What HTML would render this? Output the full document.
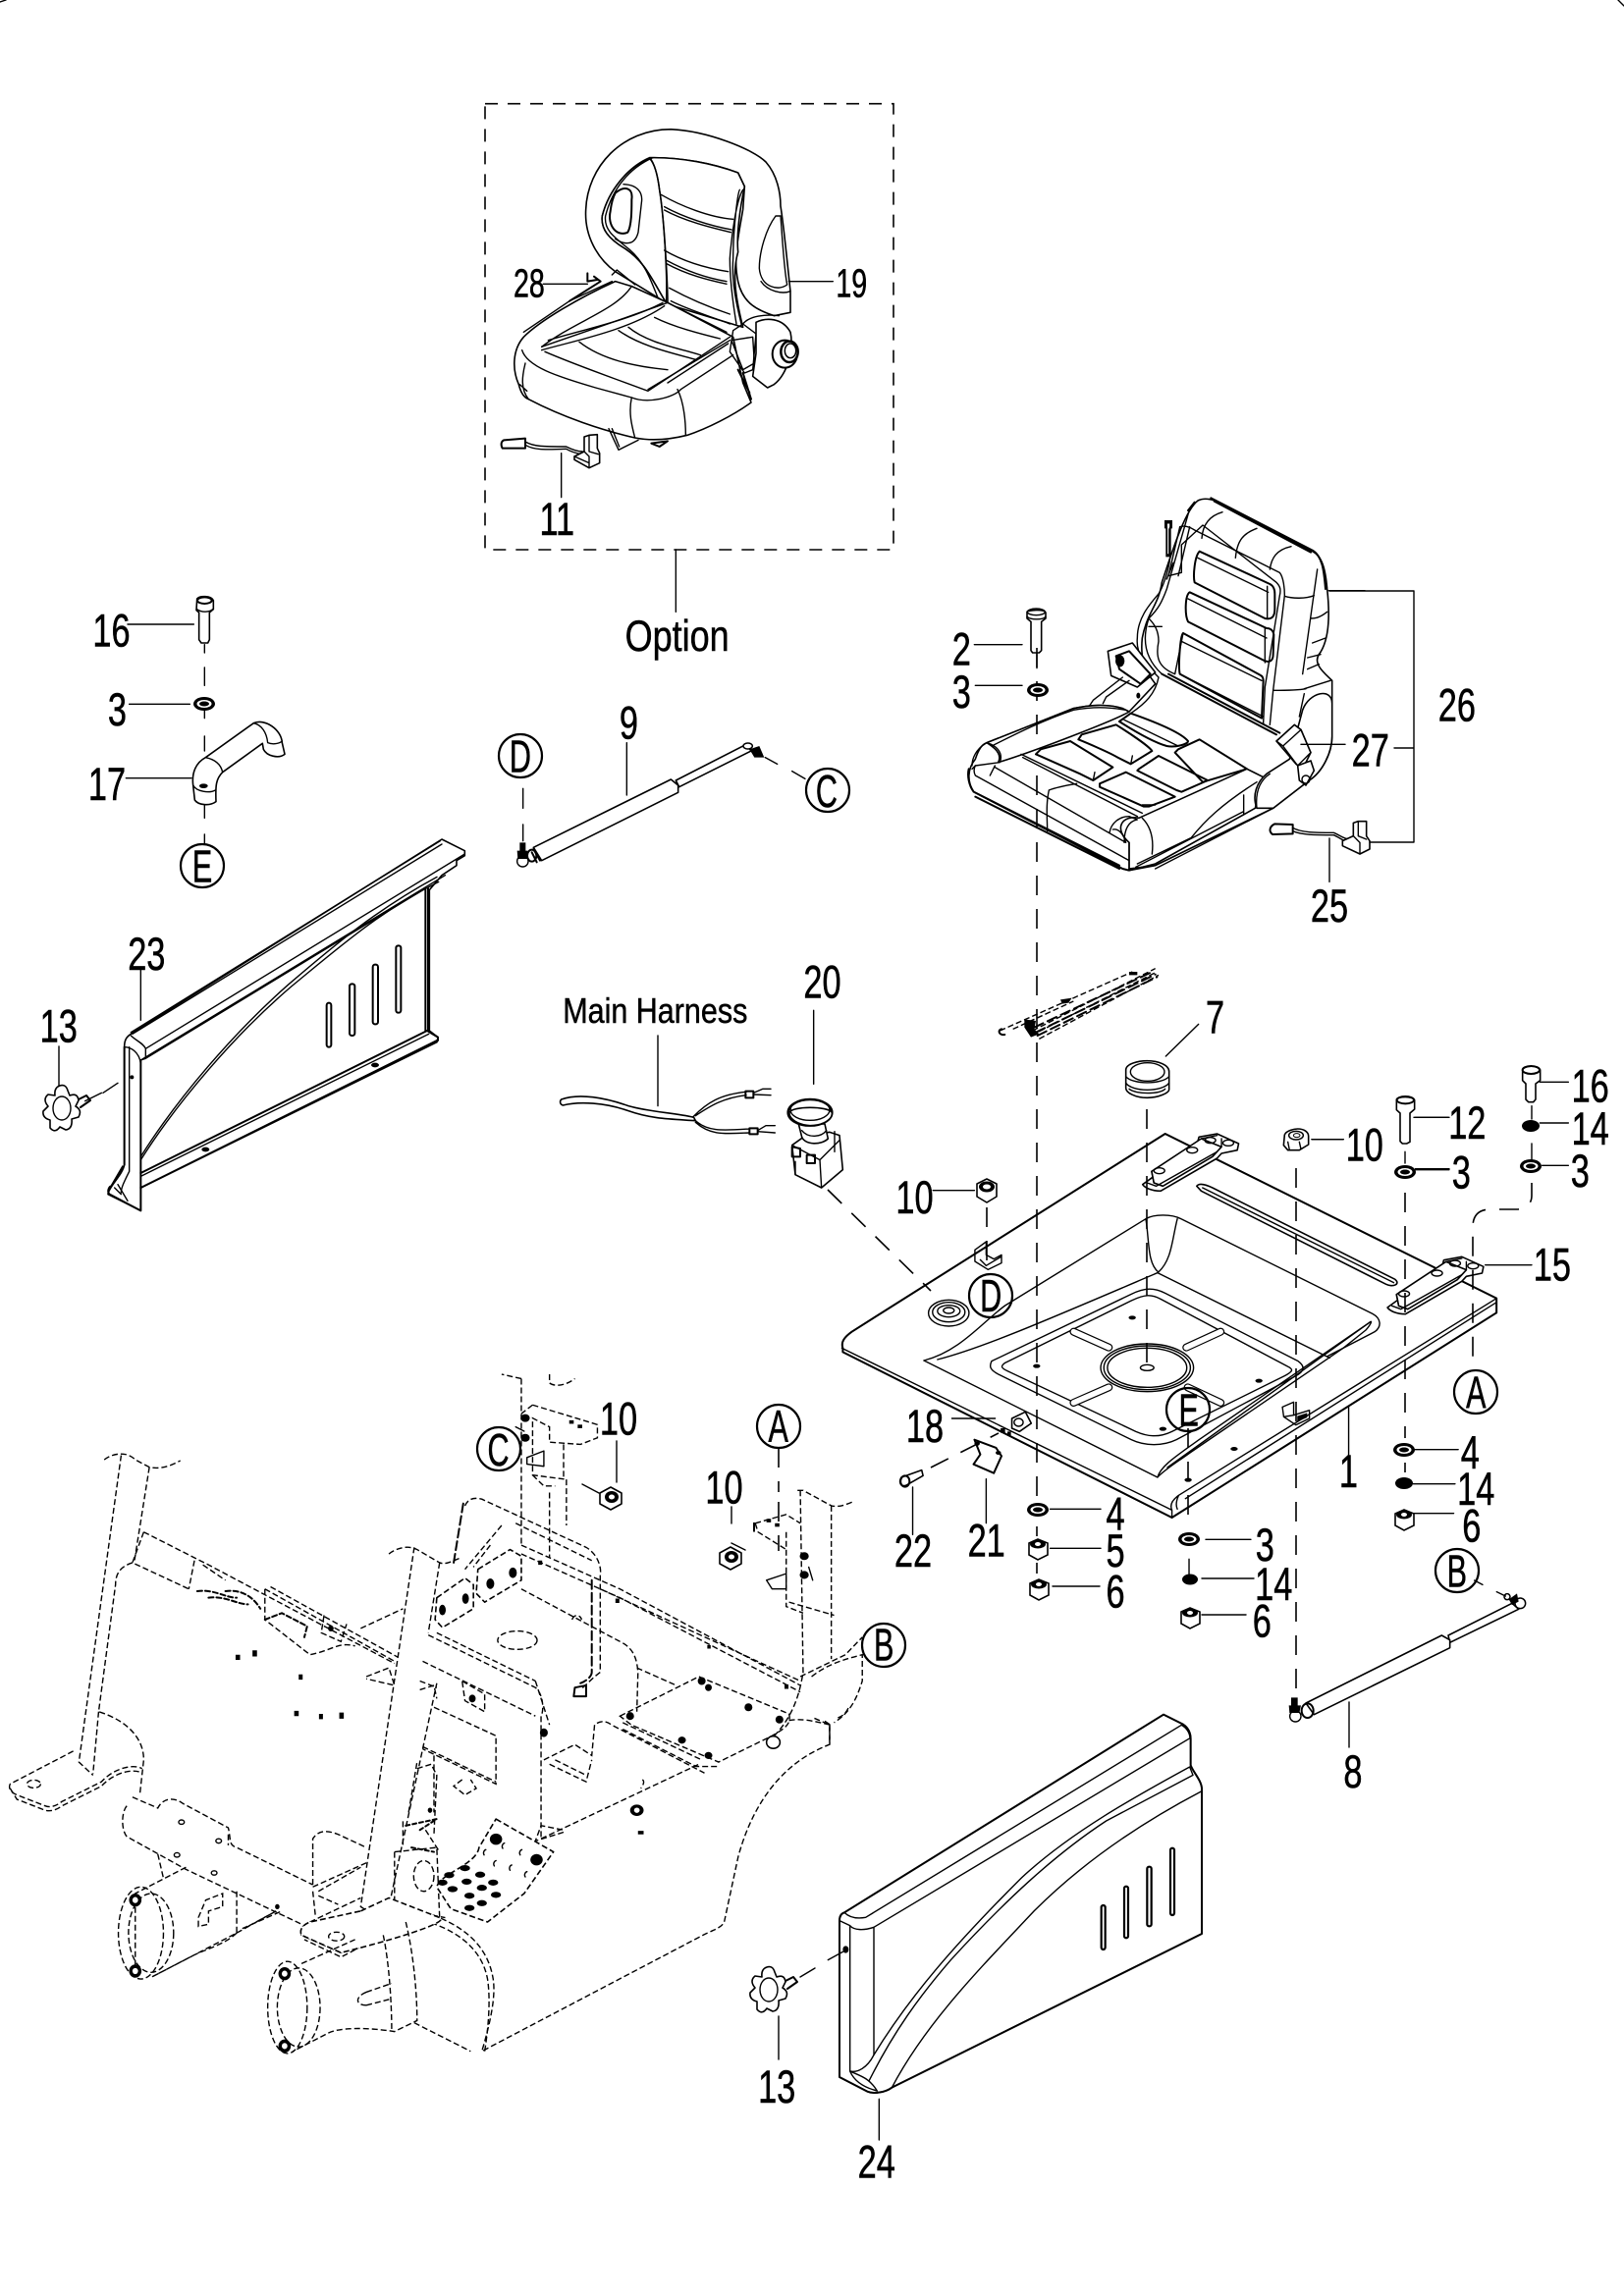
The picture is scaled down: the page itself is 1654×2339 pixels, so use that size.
<!DOCTYPE html>
<html><head><meta charset="utf-8"><style>
html,body{margin:0;padding:0;background:#fff}
svg{display:block}
svg *{vector-effect:non-scaling-stroke}
.l{fill:none;stroke:#000;stroke-width:1.4;stroke-linejoin:round;stroke-linecap:round}
.h{fill:none;stroke:#000;stroke-width:2;stroke-linejoin:round;stroke-linecap:round}
.f{fill:#fff;stroke:#000;stroke-width:1.6;stroke-linejoin:round}
.d{fill:none;stroke:#000;stroke-width:1.4;stroke-dasharray:6 3}
.dd{fill:none;stroke:#000;stroke-width:1.6;stroke-dasharray:20 14}
.b{fill:#000;stroke:none}
text{font-family:"Liberation Sans",sans-serif;fill:#000;text-anchor:middle;stroke:#000;stroke-width:.5}
</style></head><body>
<svg xmlns="http://www.w3.org/2000/svg" width="1654" height="2339" viewBox="0 0 1654 2339">
<rect width="1654" height="2339" fill="#fff"/>
<path class="l" d="M0 2 L6 0 M1648 0 L1654 6"/>

<!-- frame (dashed) -->
<g transform="translate(0,1400) scale(.574,.4464)">
<path class="d" d="M185 195C200 180 225 175 240 195L265 212C285 218 305 208 320 197"/>
<path class="d" d="M215 185L140 885L165 915M265 212L238 430M175 770L165 912"/>
<path class="d" d="M130 860L18 935C14 945 20 955 30 960L80 985C90 990 100 985 110 975L180 930C205 895 240 890 252 900"/>
<path class="d" d="M18 945L30 970L80 995C90 998 100 995 110 985L180 940C205 905 240 900 252 910"/>
<ellipse class="d" cx="60" cy="935" rx="12" ry="9"/>
<path class="d" d="M235 430C210 440 205 460 205 480L175 770C225 790 255 830 255 880L248 960"/>
<path class="d" d="M255 360L235 430L335 490M255 360L370 435L700 660M345 425L335 490M360 435L400 470"/>
<path class="h" stroke-dasharray="5 3" d="M350 495C380 490 400 510 420 510M370 510C400 505 420 525 440 525M400 495C430 490 450 510 462 535"/>
<path class="d" d="M470 490L700 655M480 485L705 645M470 490V560L550 640C590 630 600 610 630 620M575 550L570 590L605 610L615 570"/>
<path class="h" stroke-dasharray="5 3" d="M470 560L500 545L545 575L540 600"/>
<ellipse class="b" cx="587" cy="580" rx="5" ry="7"/>
<path class="d" d="M640 580L715 535M650 690L690 670L700 710L650 695"/>
<path class="b" d="M418 640h8v12h-8zM448 630h8v14h-8zM530 685h7v12h-7zM522 768h8v12h-8zM566 775h7v12h-7zM602 772h8v14h-8zM955 425h7v10h-7zM1092 512h7v10h-7zM1255 618h6v8h-6zM1392 708h7v10h-7z"/>
<path class="d" d="M690 410C705 395 725 390 740 400L780 430C790 435 800 428 815 420M735 395L640 1215L660 1232L690 1215L775 705M780 430L760 590M745 700L775 715"/>
<path class="d" d="M825 300C830 285 840 280 855 285L1040 395C1060 410 1068 440 1065 460L1065 680L1055 690L1030 720"/>
<path class="h" stroke-dasharray="9 4" d="M822 295L805 430M1050 470V680C1050 690 1040 700 1030 705"/>
<path class="d" d="M890 345L825 445M870 390L840 440M915 340L1050 425"/>
<path class="f" stroke-dasharray="6 3" d="M848 445L905 400L925 415V470L860 520L845 500Z"/>
<path class="f" stroke-dasharray="6 3" d="M775 510L825 465L840 480V535L785 578L772 560Z"/>
<ellipse class="b" cx="870" cy="478" rx="7" ry="12"/><ellipse class="b" cx="910" cy="453" rx="7" ry="12"/>
<ellipse class="b" cx="785" cy="538" rx="6" ry="12"/><ellipse class="b" cx="826" cy="512" rx="6" ry="12"/>
<path class="d" d="M925 390L1100 490L1420 710M925 410L1100 510L1420 725M1065 490L1420 700"/>
<path class="d" d="M760 595L950 715C965 730 965 770 960 780V1060M775 590L950 700M750 655L950 780M950 700L975 800"/>
<path class="d" d="M925 490L1100 610C1125 625 1130 650 1132 680L1130 770M1130 670L1200 710"/>
<ellipse class="d" cx="918" cy="607" rx="35" ry="21"/>
<path class="d" d="M1015 560C1020 545 1030 550 1032 560"/>
<path class="d" d="M745 720L770 710L775 740M770 760L880 825L880 935L750 855M750 850L880 930M770 870L770 1000"/>
<path class="d" d="M820 700L860 730V770L825 745Z"/>
<ellipse class="b" cx="838" cy="740" rx="6" ry="9"/><ellipse class="b" cx="965" cy="818" rx="7" ry="10"/>
<path class="d" d="M965 880L1020 845L1050 870L1055 800C1065 790 1075 790 1085 800L1250 910M975 890L1040 930L1050 880M985 880L1040 915"/>
<path class="h" d="M1020 715L1040 710L1040 735L1018 735Z"/>
<path class="d" d="M1100 780L1240 690L1400 775C1405 800 1390 810 1370 825L1275 885L1120 800Z"/>
<path class="d" d="M1105 795L1245 880M1105 810L1235 895L1275 895"/>
<ellipse class="b" cx="1118" cy="780" rx="7" ry="9"/><ellipse class="b" cx="1245" cy="700" rx="7" ry="9"/><ellipse class="b" cx="1257" cy="715" rx="6" ry="8"/><ellipse class="b" cx="1328" cy="760" rx="7" ry="9"/><ellipse class="b" cx="1383" cy="788" rx="7" ry="9"/><ellipse class="b" cx="1210" cy="835" rx="7" ry="8"/><ellipse class="b" cx="1257" cy="870" rx="7" ry="8"/><ellipse class="f" cx="1372" cy="840" rx="12" ry="14"/>
<path class="d" d="M1415 265L1425 265L1475 300C1490 305 1505 295 1515 290M1420 265L1425 680C1420 720 1410 780 1370 830M1475 300V650M1420 690L1500 640L1530 600"/>
<path class="d" d="M1440 690C1470 660 1500 650 1530 640L1530 700C1520 740 1510 770 1480 795M1400 790C1420 785 1440 790 1472 800V845"/>
<path class="d" d="M1445 785L1472 800V845C1400 880 1340 960 1310 1100L1285 1250C1280 1265 1260 1270 1240 1285L855 1545C870 1480 880 1420 875 1380C865 1300 820 1260 770 1235C730 1230 690 1245 670 1270L605 1320L535 1280C530 1265 540 1255 550 1250L640 1195"/>
<path class="d" d="M860 1545C868 1480 870 1420 865 1380C855 1310 810 1270 760 1250C730 1245 700 1260 680 1280L605 1330L540 1290"/>
<path class="d" d="M1000 1045L950 1065L960 1030L1000 1040M960 1060L1240 890"/>
<path class="d" d="M1140 925C1145 930 1140 940 1137 945"/>
<ellipse class="b" cx="1130" cy="995" rx="12" ry="13"/><ellipse cx="1130" cy="995" rx="5" ry="6" fill="#fff"/><rect class="b" x="1132" y="1042" width="10" height="8"/>
<path class="d" d="M235 965L280 990C290 965 310 965 325 980L405 1035C410 1060 405 1075 420 1080L555 1165M225 985C215 1000 215 1040 225 1055L330 1130L535 1255M405 1050L405 1075"/>
<circle class="l" cx="322" cy="1022" r="5"/><circle class="l" cx="388" cy="1065" r="5"/><circle class="l" cx="314" cy="1097" r="5"/><circle class="l" cx="380" cy="1138" r="5"/>
<path class="d" d="M280 1095L290 1150M330 1125L240 1185V1375M420 1180V1275L270 1375M420 1275C400 1300 370 1310 345 1325L270 1375"/>
<path class="d" d="M420 1275L490 1225L440 1260M430 1265L500 1225"/>
<ellipse class="b" cx="492" cy="1215" rx="4" ry="6"/>
<ellipse class="d" cx="250" cy="1275" rx="40" ry="105"/><ellipse class="d" cx="268" cy="1275" rx="40" ry="90"/>
<ellipse class="b" cx="240" cy="1200" rx="11" ry="15"/><ellipse class="b" cx="240" cy="1362" rx="11" ry="15"/><ellipse cx="240" cy="1200" rx="5" ry="7" fill="#fff"/><ellipse cx="240" cy="1362" rx="5" ry="7" fill="#fff"/>
<path class="d" d="M352 1240L365 1200L395 1185L395 1215L370 1225L370 1255L352 1260Z"/>
<path class="d" d="M555 1165L555 1060C565 1040 580 1040 600 1050L650 1080M555 1170L650 1115M565 1180L640 1125M555 1180L560 1240M565 1190L600 1210"/>
<path class="d" d="M700 1090L700 1215M700 1090L775 1080L780 1240M705 1220L790 1240"/>
<ellipse class="d" cx="752" cy="1145" rx="18" ry="35"/>
<path class="d" d="M740 900L765 890L775 915L770 1050M725 1000L740 885M715 1020V1080M755 1040L780 1090"/>
<path class="h" stroke-dasharray="4 3" d="M720 1030L775 1015L745 1040M730 1080L770 1090"/>
<ellipse class="b" cx="763" cy="995" rx="4" ry="6"/>
<path class="d" d="M820 925L805 940L825 960L845 945L835 925"/>
<path class="f" stroke-dasharray="6 3" d="M880 1015L982 1090L930 1185L865 1250L800 1220L775 1170C780 1140 845 1120 850 1080Z"/>
<path class="b" d="M880 1048a11 13 0 1 0 .1 0zM952 1095a11 13 0 1 0 .1 0z"/>
<path class="l" d="M862 1085a6 8 0 0 0-3 12M895 1070a6 8 0 0 0-3 12M926 1085a6 8 0 0 0-3 12M880 1110a6 8 0 0 0-3 12M908 1120a6 8 0 0 0-3 12M935 1135a6 8 0 0 0-3 12"/>
<g class="b"><ellipse cx="825" cy="1127" rx="9" ry="7"/><ellipse cx="852" cy="1142" rx="9" ry="7"/><ellipse cx="797" cy="1143" rx="9" ry="7"/><ellipse cx="828" cy="1158" rx="9" ry="7"/><ellipse cx="855" cy="1172" rx="9" ry="7"/><ellipse cx="785" cy="1160" rx="9" ry="7"/><ellipse cx="803" cy="1175" rx="9" ry="7"/><ellipse cx="833" cy="1190" rx="9" ry="7"/><ellipse cx="880" cy="1188" rx="9" ry="7"/><ellipse cx="875" cy="1160" rx="9" ry="7"/><ellipse cx="833" cy="1218" rx="9" ry="7"/><ellipse cx="855" cy="1207" rx="9" ry="7"/></g>
<path class="f" stroke-dasharray="6 3" d="M640 1225L690 1195L780 1240C800 1250 700 1290 605 1320L535 1280C530 1265 540 1255 550 1250Z"/>
<ellipse class="d" cx="597" cy="1283" rx="14" ry="10"/>
<path class="d" d="M535 1345L630 1290M680 1280C690 1340 695 1430 695 1500M720 1250C735 1330 740 1420 740 1475L700 1500C650 1490 600 1490 580 1505L520 1545M735 1480L835 1545"/>
<path class="d" d="M650 1410L695 1390M650 1440L695 1425M650 1410C630 1420 630 1440 650 1440"/>
<ellipse class="d" cx="510" cy="1445" rx="35" ry="105"/><ellipse class="d" cx="530" cy="1445" rx="38" ry="90"/>
<ellipse class="b" cx="505" cy="1368" rx="11" ry="15"/><ellipse class="b" cx="505" cy="1533" rx="11" ry="15"/><ellipse cx="505" cy="1368" rx="5" ry="7" fill="#fff"/><ellipse cx="505" cy="1533" rx="5" ry="7" fill="#fff"/>
<path class="d" d="M925 10V390M975 0V20C985 30 1005 25 1020 10M1005 240V345M975 270L975 420M945 70L925 90M945 70L1060 115V145L1030 160L975 155V120L945 100V230L1005 240M1000 160V240"/>
<path class="d" d="M945 230L965 255L985 255M925 10L890 0"/>
<ellipse class="b" cx="932" cy="100" rx="8" ry="9"/><ellipse class="b" cx="932" cy="145" rx="8" ry="9"/><rect class="b" x="1010" y="105" width="8" height="8"/><rect class="b" x="1025" y="115" width="8" height="8"/>
<path class="l" d="M915 120L930 130M935 190L965 175V210L935 205Z"/>
<path class="d" d="M1340 340L1395 320L1420 340M1340 340L1345 360L1395 400M1395 360V530L1425 545M1400 520L1480 550"/>
<path class="h" d="M1338 340V358"/>
<rect class="b" x="1360" y="330" width="8" height="8"/><rect class="b" x="1375" y="340" width="8" height="8"/>
<ellipse class="b" cx="1427" cy="415" rx="8" ry="9"/><ellipse class="b" cx="1427" cy="458" rx="8" ry="9"/>
<path class="l" d="M1435 440L1442 470M1360 470L1395 455V490L1370 490Z"/>
</g>

<!-- dashed rectangle + seat 19 -->
<g transform="translate(480,90) scale(.33333)">
<rect x="42" y="47" width="1248" height="1363" fill="none" stroke="#000" stroke-width="1.6" stroke-dasharray="13 10"/>
<path class="l" d="M625 1410V1600"/>
<path class="f" d="M440 560C385 520 345 450 350 370C355 240 460 125 610 125C720 130 860 185 900 225C935 265 945 320 945 360C955 420 965 530 975 620V685L925 695C880 680 830 660 815 590C800 520 815 460 830 370L835 300L815 258C740 230 640 210 545 212C480 240 420 310 400 390C395 430 420 460 470 490C530 530 550 580 595 655Z"/>
<path class="f" d="M545 212C640 210 740 230 815 258L835 300C820 370 810 450 815 500C795 570 810 650 830 730L600 660C600 600 590 400 575 310C570 270 560 230 545 212Z"/>
<path class="l" d="M545 215C480 240 420 310 400 390C395 430 420 460 470 490C530 530 550 580 595 655C600 600 590 400 575 310C570 270 560 230 545 215"/>
<path class="l" d="M555 212C480 245 430 310 410 390C405 430 430 450 480 490C530 530 550 590 570 640"/>
<path class="h" d="M440 320C470 295 495 305 490 340C490 370 490 420 478 440C445 455 415 420 425 375C428 350 432 335 440 320Z"/>
<path class="l" d="M465 293C510 295 525 320 520 350L510 440C500 480 470 480 440 460"/>
<path class="l" d="M830 310C810 340 795 450 790 520C790 590 800 660 810 720M820 310C815 310 800 430 800 520C795 590 810 660 825 720"/>
<path class="l" d="M580 325C640 360 730 395 800 400M590 362C650 395 730 420 795 432M590 372C650 405 730 425 793 440"/>
<path class="l" d="M590 495C650 530 720 550 785 560M595 525C660 560 720 580 780 590M595 535C660 570 720 585 780 598"/>
<path class="l" d="M605 610C660 640 730 670 790 690M610 650C670 680 740 700 790 720"/>
<path class="l" d="M930 390C900 430 880 500 880 550C885 610 940 620 965 600C955 550 950 450 945 390Z"/>
<path class="l" d="M885 590C905 620 950 630 975 620"/>
<path class="f" d="M440 590C330 640 210 710 160 760C125 800 125 860 145 905C150 925 160 945 175 950C280 1005 400 1045 500 1068C560 1080 620 1070 660 1060C720 1040 800 1000 855 960L830 900L800 760L600 655L490 605Z"/>
<path class="l" d="M215 790C300 760 420 720 600 655"/>
<path class="l" d="M215 790C320 710 440 680 490 605M215 800C320 770 480 740 590 665M235 770C350 735 480 710 585 655"/>
<path class="l" d="M225 805C330 850 420 880 540 925L790 760M330 775C400 830 500 850 600 860M450 740C520 790 620 810 690 830M480 730C540 780 640 795 700 815M560 700C620 730 700 750 760 765M600 655L780 745"/>
<path class="l" d="M155 800C170 850 260 880 380 915L490 945C540 965 620 945 640 920L800 815M540 920L790 770M600 900L785 780"/>
<path class="l" d="M490 945C480 990 490 1030 500 1068M630 920C650 960 655 1020 655 1060M165 840C155 880 150 920 175 950M148 905L170 925"/>
<path class="l" d="M430 590L300 650L160 745"/>
<path class="l" d="M800 740L830 720L870 750L860 860L835 870L790 805Z"/>
<path class="f" d="M870 715C900 700 950 700 975 745C985 790 970 870 925 905L905 915L860 880L870 810Z"/>
<path class="l" d="M795 770L860 760L865 840L830 860Z"/>
<path class="h" d="M830 870L855 950M815 860L850 930"/>
<path class="l" d="M830 720C850 695 900 690 940 695"/>
<ellipse cx="958" cy="812" rx="38" ry="42" fill="#fff" stroke="#000" stroke-width="2"/>
<ellipse cx="972" cy="805" rx="26" ry="32" fill="#fff" stroke="#000" stroke-width="2.5"/>
<ellipse cx="975" cy="802" rx="17" ry="22" fill="#fff" stroke="#000" stroke-width="1.5"/>
<path class="h" d="M355 565V590L385 585M375 575L395 590L300 650"/>
<path class="l" d="M430 570L445 555L500 600"/>
<path class="l" d="M420 1040L450 1105L510 1075M430 1040L452 1095"/>
<path class="h" d="M550 1085L600 1078L575 1095Z"/>
<path class="h" d="M100 1075L165 1070V1100L95 1100C90 1090 90 1080 100 1075Z"/>
<path class="l" d="M165 1080C190 1095 220 1095 290 1095C300 1100 320 1110 340 1110M165 1090C190 1105 220 1105 290 1102C300 1108 320 1115 335 1118"/>
<path class="f" d="M360 1060L385 1058V1100L392 1115V1145L360 1160L315 1135V1125L345 1110V1065Z"/>
<path class="l" d="M360 1060V1110L388 1118M345 1110L360 1125V1160M315 1125L360 1145"/>
<path class="l" d="M275 1115V1250M220 598H355M970 590H1105"/>
</g>

<!-- handle 17, bolt 16, washer -->
<g transform="translate(80,600) scale(.33333)">
<path class="f" d="M362 30C370 20 405 20 412 35V62L400 72V155L395 165H375L368 155V72L360 65Z"/>
<ellipse class="h" cx="385" cy="35" rx="22" ry="10"/>
<path class="l" d="M362 62C375 72 400 72 410 62M150 108H352M155 352H340M145 578H345"/>
<path class="f" d="M388 515L535 410C570 395 620 430 622 470L630 505C610 520 575 510 565 490L562 472L440 560C420 580 418 600 420 650C400 665 365 660 355 645L350 600C345 560 360 530 388 515Z"/>
<path class="l" d="M388 515C415 520 435 535 440 560M535 410C560 415 575 440 578 470C590 475 610 475 622 465M350 600C360 620 400 625 418 615"/>
<ellipse class="b" cx="382" cy="602" rx="13" ry="7"/>
<path class="l" stroke-linecap="butt" d="M385 170V195M385 240V295M385 370V395M385 450V495M385 660V700M385 750V780"/>
</g>

<!-- fender 23 -->
<g transform="translate(80,840) scale(.33333)">
<path class="f" d="M140 680C140 660 145 650 160 640L1110 45L1180 80L1180 95L1155 110L1155 125L1110 155L1072 200V630L1098 650L1095 665L190 1110V1180L90 1130C90 1110 135 1070 140 1040Z"/>
<path class="l" d="M160 645C175 660 200 670 205 685L1180 90M160 635L1105 50M165 640L1110 60M205 685V715L190 720V740M190 720L1120 155"/>
<path class="l" d="M205 715L1060 195M155 680V1060C140 1090 130 1110 130 1125M140 680C160 680 185 695 190 730"/>
<path class="h" d="M140 680V1040M190 720V1180L95 1130C85 1120 95 1105 100 1105L135 1045"/>
<path class="h" d="M1068 195V630M1060 200V630"/>
<path class="l" d="M190 1015C300 840 470 640 640 490C780 370 910 260 1095 160M190 1025C300 850 480 640 650 495C790 380 920 265 1100 175"/>
<path class="l" d="M110 1110L130 1130M120 1100L150 1150"/>
<path class="h" d="M190 1065L1065 630M190 1110L1095 660M1065 630L1098 650V660"/>
<path class="l" d="M190 1075L1070 640"/>
<ellipse class="b" cx="388" cy="993" rx="12" ry="7"/><ellipse class="b" cx="906" cy="735" rx="12" ry="7"/><circle class="b" cx="163" cy="772" r="6"/>
<g fill="#fff" stroke="#000" stroke-width="2"><rect x="758" y="545" width="14" height="135" rx="7"/><rect x="828" y="487" width="16" height="158" rx="7"/><rect x="899" y="428" width="16" height="182" rx="7"/><rect x="970" y="370" width="15" height="205" rx="7"/></g>
<path class="l" d="M120 790L75 820M20 845L70 820M190 445V598"/>
</g>

<!-- knob 13 (left) -->
<g transform="translate(64,1130)">
<path class="h" d="M14 -9L24 -14L28 -9L18 -2"/>
<path class="f" stroke-width="2" d="M-3 -24Q3 -26 5 -19L7 -14Q15 -17 16 -9L13 -3Q20 1 16 8L9 10Q10 20 3 21L-3 18Q-8 25 -13 19L-13 11Q-21 9 -20 2L-15 -3Q-21 -10 -15 -15L-8 -14Q-9 -22 -3 -24Z"/>
<ellipse class="l" cx="-1" cy="-1" rx="9" ry="12"/>
</g>
<path class="l" d="M60 1066V1106"/>

<!-- knob 13 (lower) -->
<g transform="translate(784,2028)">
<path class="h" d="M14 -9L24 -14L28 -9L18 -2"/>
<path class="f" stroke-width="2" d="M-3 -24Q3 -26 5 -19L7 -14Q15 -17 16 -9L13 -3Q20 1 16 8L9 10Q10 20 3 21L-3 18Q-8 25 -13 19L-13 11Q-21 9 -20 2L-15 -3Q-21 -10 -15 -15L-8 -14Q-9 -22 -3 -24Z"/>
<ellipse class="l" cx="-1" cy="-1" rx="9" ry="12"/>
</g>
<path class="l" d="M793 2054V2098M815 2014L830 2005"/>

<!-- gas spring 9 -->
<g transform="translate(500,720) scale(.33333)">
<path class="f" d="M565 225L780 115L795 135L575 245Z"/>
<path class="f" stroke-width="2" d="M130 430L550 222L572 240V262L155 470Z"/>
<path class="h" d="M130 435L150 470M125 445L140 475"/>
<ellipse class="h" cx="125" cy="455" rx="14" ry="18"/>
<circle class="l" cx="97" cy="472" r="17"/>
<path class="b" d="M88 415H106V445H88ZM80 440H112L110 465H82Z"/>
<ellipse cx="785" cy="120" rx="14" ry="9" fill="#fff" stroke="#000" stroke-width="1.5"/>
<path class="b" d="M790 130L820 120L835 155L805 155Z"/>
<path class="l" d="M98 250V310M98 360V410M415 110V270M838 155L875 175M920 197L960 220"/>
</g>

<!-- harness + switch 20 -->
<g transform="translate(560,970) scale(.33333)">
<path class="f" d="M35 450C90 430 170 445 240 470C310 490 380 490 440 505L445 515C370 510 310 510 240 485C170 460 90 455 40 468C30 465 30 455 35 450Z"/>
<path class="l" d="M438 503C480 460 520 435 600 427M445 500C490 470 530 445 600 437M442 512C480 550 530 545 610 540M445 520C490 560 530 555 610 552"/>
<path class="h" d="M598 425H622V445H598ZM610 538H635V556H610Z"/>
<path class="l" d="M622 430L650 418H675M622 435L675 437M635 545L660 530H688M635 548L688 552"/>
<path class="l" d="M330 255V470M806 178V403"/>
<path class="f" d="M740 590L775 565L855 550L885 560L895 665L830 720L750 680Z"/>
<path class="l" d="M740 590L825 635L885 575M825 635L830 720"/>
<path class="f" d="M760 525L840 525L850 570C830 590 780 590 770 565Z"/>
<path class="l" d="M770 545C790 570 830 565 845 545"/>
<ellipse cx="795" cy="490" rx="67" ry="40" fill="#fff" stroke="#000" stroke-width="2.5"/>
<path class="f" d="M732 490C730 510 760 528 795 530C835 530 865 510 862 490C850 470 740 470 732 490Z"/>
<ellipse class="l" cx="795" cy="482" rx="60" ry="32"/>
<path class="h" d="M740 595V625L765 625V600ZM785 620V645H810V620Z"/>
<path class="l" d="M870 548V610M750 640V680"/>
</g>

<!-- seat 26 -->
<g transform="translate(950,490) scale(.33333)">
<path class="f" d="M640 480C655 400 690 380 700 310C730 220 770 90 810 60C830 50 860 55 880 70L1160 215C1190 230 1200 270 1205 330C1215 420 1210 490 1180 530C1160 560 1200 590 1220 610V780C1220 830 1190 890 1150 915L1040 1000L680 1175L600 1190L580 1185L125 950C105 920 105 880 130 850C140 820 150 805 165 800L430 695C480 685 530 680 580 695L600 705L680 620C640 570 635 530 640 480Z"/>
<path class="h" d="M850 52L1160 212M860 62L1155 218M800 65L780 90M1160 212C1190 230 1195 270 1200 330"/>
<path class="l" d="M785 85L715 330C700 370 690 390 660 420C640 480 645 540 700 590M755 140C770 135 785 140 800 150L1060 280C1072 295 1075 330 1075 350L1040 640L1030 745"/>
<path class="l" d="M885 95C850 105 825 130 822 175M990 145C950 160 930 180 925 235M1095 200C1050 210 1035 235 1030 270M1075 352C1100 360 1140 360 1165 350M1175 270L1130 590M1205 400C1180 420 1165 420 1155 420M1200 480L1160 495M1185 530L1145 540M1180 560L1145 575M1215 610L1135 635"/>
<path class="l" d="M755 140L720 290L760 280L760 195L825 135L1050 310C1060 320 1065 330 1060 350L1015 630L1010 740"/>
<path class="l" d="M785 140L750 290"/>
<path class="h" d="M815 215C800 230 795 290 800 310L1015 420C1040 425 1045 410 1045 390L1045 345C1045 330 1040 320 1030 315Z"/>
<path class="l" d="M810 235L1025 340M1022 322V420"/>
<path class="h" d="M785 340C770 350 770 410 780 430L1015 550C1030 555 1040 550 1040 530L1042 470C1040 455 1030 450 1020 450Z"/>
<path class="l" d="M780 360L1020 480M1015 450V555"/>
<path class="h" d="M765 465C755 475 750 570 755 590L1005 725L1010 610C1010 600 1005 595 1000 593Z"/>
<path class="l" d="M760 490L1005 610M755 590L1010 720"/>
<path class="h" d="M720 590L1060 770M700 590L1050 775"/>
<path class="l" d="M740 590L765 465M660 420C680 440 690 460 690 490C680 540 690 570 740 590M660 445L700 445M1040 640C1080 640 1115 640 1140 635"/>
<path class="b" d="M708 120H732V145H728V232H712V145H708Z"/>
<path class="f" d="M714 128H726V140L723 148V225H715V148Z"/>
<path class="l" d="M725 235C720 280 700 330 690 345C660 380 625 420 625 480C620 530 650 560 690 600C680 650 650 680 605 710M735 250L715 300"/>
<path class="f" d="M535 520L610 495L680 585L625 630L545 595Z"/>
<path class="h" d="M560 535L600 520L665 590L635 620L570 575Z"/>
<ellipse class="b" cx="572" cy="550" rx="14" ry="18"/>
<ellipse class="b" cx="628" cy="656" rx="6" ry="9"/>
<path class="l" d="M580 600L490 670L480 685M600 610L530 660L520 680"/>
<path class="f" d="M165 800L430 695C480 685 530 680 580 695L600 705C560 730 300 830 200 860C215 830 180 810 165 800Z"/>
<path class="l" d="M180 810C260 770 340 730 430 700C490 690 530 690 590 700"/>
<path class="l" d="M165 800C130 820 120 850 120 870M165 800C200 810 215 835 205 860L130 870L120 880M190 870L175 900"/>
<path class="h" d="M605 710C690 740 760 770 780 795C780 805 740 815 715 810C680 800 625 770 570 735Z"/>
<path class="h" d="M455 775L560 745C600 770 660 810 670 825L605 865L565 845C540 830 470 800 445 790Z"/>
<path class="l" d="M565 845L605 865L610 840M585 730L750 810"/>
<path class="h" d="M330 820L420 795L550 875L490 915L450 895L315 835Z"/>
<path class="l" d="M450 895L490 915L495 890"/>
<path class="h" d="M750 820L815 790L960 880L825 920L740 830Z"/>
<path class="h" d="M630 880L690 840L840 915L760 950L745 945L625 885Z"/>
<path class="h" d="M510 925L590 890L740 965L660 995L645 995L510 935Z"/>
<path class="l" d="M640 990L680 990M270 835L640 1015M275 845L625 1025"/>
<path class="f" d="M600 1105C550 1060 580 1020 630 1030L960 880C980 890 990 895 1010 905L985 1000L680 1170L600 1190Z"/>
<path class="l" d="M190 875L590 1105M130 870C125 880 125 890 130 900L600 1160M355 945C345 990 350 1030 350 1070M355 945C380 935 410 930 440 925M640 1030C670 1060 675 1100 670 1140M600 1105V1190M540 1075C545 1045 570 1025 600 1025L625 1035C600 1040 585 1060 585 1105M550 1065C570 1060 585 1085 590 1105"/>
<path class="h" d="M110 880C105 900 110 930 125 950L580 1185L600 1190M125 950L570 1175M130 965L570 1185"/>
<path class="l" d="M625 1170L790 1090C830 1040 880 990 990 920M600 1185L680 1175L1040 1000M620 1180L950 1010M950 960L950 1020M680 1185L1040 1000"/>
<path class="f" d="M1130 700C1150 645 1220 630 1220 680V780C1220 830 1190 890 1150 915L1040 1000L990 1000C975 960 990 920 1020 895L1090 850Z"/>
<path class="l" d="M1135 650L1120 720M990 1000C985 950 1000 915 1030 895"/>
<path class="f" d="M1050 795L1105 745L1125 760L1155 830L1130 880L1110 865Z"/>
<path class="l" d="M1050 795L1105 745L1125 760L1070 810ZM1070 810L1115 870L1155 830L1125 760"/>
<path class="f" d="M1115 870L1155 855L1165 885L1140 930L1120 915Z"/>
<circle class="l" cx="1140" cy="912" r="12"/>
<!-- bolt 2 -->
<path class="f" d="M288 400C290 395 340 390 345 402V420L332 430V518L325 525H305L300 518V430L288 420Z"/>
<ellipse class="l" cx="316" cy="400" rx="27" ry="10"/>
<path class="l" d="M288 415C300 425 335 425 345 415M127 500H273M130 625H273M318 530V572M1210 335H1320M1125 805H1260M1212 1092V1225"/>
<!-- connector 25 -->
<path class="h" d="M1045 1048L1100 1050V1078L1038 1080C1025 1070 1030 1055 1045 1048Z"/>
<path class="l" d="M1100 1060C1125 1075 1170 1075 1225 1075C1240 1080 1255 1095 1275 1095M1100 1070C1125 1082 1170 1082 1225 1082C1240 1088 1250 1098 1265 1102"/>
<path class="f" d="M1300 1040L1325 1040V1085L1335 1100V1125L1305 1140L1252 1115V1100L1285 1085V1045Z"/>
<path class="l" d="M1300 1040V1085L1325 1095M1285 1085L1305 1105V1140"/>
</g>

<!-- rails -->
<g transform="translate(1000,990) scale(.33333)">
<path class="d" stroke-width="2" d="M55 180L460 0M95 175L280 90M150 195L535 0M155 180L530 -10M175 205L540 10"/>
<path class="h" stroke-dasharray="10 5" d="M165 185L530 8M160 170L525 -2M170 195L535 16"/>
<path class="h" d="M60 175C45 180 55 195 70 192"/>
<path class="b" d="M130 145L165 150L160 175L175 190L150 200L130 170ZM240 85L275 80L265 95L245 98ZM450 0H475V10H450Z"/>
<path class="f" d="M440 300C440 280 480 272 505 272C540 272 572 285 572 305V360C572 370 540 385 505 385C470 385 440 370 440 355Z"/>
<ellipse class="l" cx="506" cy="306" rx="52" ry="28"/>
<path class="l" d="M440 320C460 345 550 345 572 320M440 340C460 368 550 368 572 340M450 358C470 375 545 375 560 358"/>
<path class="l" d="M562 258L662 160"/>
</g>

<!-- parts top right -->
<g transform="translate(1300,1070) scale(.33333)">
<path class="f" d="M25 258C30 245 55 240 65 240C85 240 98 250 98 262V288L70 305H35L22 290Z"/>
<ellipse cx="60" cy="260" rx="22" ry="13" fill="#fff" stroke="#000" stroke-width="1.5"/>
<ellipse cx="62" cy="260" rx="10" ry="6" fill="#fff" stroke="#000" stroke-width="1"/>
<path class="l" d="M35 280L40 305M70 280L75 302M108 272H205"/>
<path class="f" d="M367 150C372 140 418 140 422 152V180L408 192V280L398 285H385L378 278V192L367 182Z"/>
<ellipse class="h" cx="394" cy="152" rx="26" ry="11"/>
<path class="f" d="M752 60C757 45 802 45 806 60V92L792 102V150L785 158H770L762 150V102L752 92Z"/>
<ellipse class="h" cx="778" cy="60" rx="26" ry="12"/>
<path class="l" d="M420 205H525M805 97H892M430 362H525M812 352H892M805 222H892M393 310V345M780 170V210M780 285V335"/>
</g>

<!-- panel 1 -->
<g transform="translate(840,1130) scale(.45918,.33333)">
<path class="f" d="M40 730C35 710 45 695 60 680L755 75L1490 578V622L770 1248L40 742Z"/>
<path class="h" d="M40 730C35 710 45 695 60 680L755 75L1490 578V622L770 1248L40 742Z"/>
<path class="l" d="M38 730L770 1225C765 1210 770 1195 785 1180L1490 578M770 1225V1248M785 1180C780 1195 778 1210 782 1222M800 1190L1490 590"/>
<path class="l" d="M220 768C300 740 350 650 400 600L712 335C730 320 770 320 790 335L1215 625C1235 640 1235 665 1220 680L1115 755"/>
<path class="l" d="M250 765C350 730 500 640 738 500L1120 760"/>
<path class="l" d="M712 335C720 400 715 470 740 498C770 460 770 400 782 335"/>
<path class="l" d="M220 768L738 1125C745 1090 780 1060 830 1010L1210 650C1215 645 1210 660 1200 675L1150 730L810 1050C780 1080 755 1100 738 1125"/>
<path class="l" d="M760 1095L1210 650"/>
<path class="l" d="M370 770L680 565C710 545 730 545 755 562L1050 770C1065 785 1065 800 1045 815L780 1010C750 1030 710 1030 680 1010L385 810C365 795 365 785 370 770Z"/>
<path class="l" d="M400 775L680 585C710 565 725 565 745 580L1025 785C1040 795 1040 800 1020 815L770 985C740 1005 715 1000 690 985L405 800C390 790 390 785 400 775Z"/>
<ellipse class="l" cx="715" cy="790" rx="103" ry="73"/>
<ellipse class="l" cx="715" cy="790" rx="96" ry="67"/>
<ellipse class="l" cx="715" cy="790" rx="88" ry="60"/>
<ellipse class="l" cx="715" cy="790" rx="15" ry="9"/>
<g><path d="M552 680L630 728M802 728L878 680M552 897L630 850M805 850L878 897" stroke="#000" stroke-width="8" stroke-linecap="round" fill="none"/><path d="M552 680L630 728M802 728L878 680M552 897L630 850M805 850L878 897" stroke="#fff" stroke-width="5.6" stroke-linecap="round" fill="none"/></g>
<ellipse class="b" cx="682" cy="637" rx="8" ry="6"/><ellipse class="b" cx="470" cy="785" rx="8" ry="6"/><ellipse class="b" cx="963" cy="830" rx="8" ry="6"/><ellipse class="b" cx="750" cy="977" rx="8" ry="6"/><ellipse class="b" cx="908" cy="1038" rx="8" ry="6"/><ellipse class="b" cx="806" cy="1133" rx="8" ry="6"/>
<path class="f" d="M825 235C830 225 845 230 860 240L1265 520C1278 535 1260 545 1245 535L835 250Z"/>
<path class="l" d="M838 240L1262 530"/>
<ellipse class="l" cx="275" cy="623" rx="45" ry="40"/><ellipse class="l" cx="275" cy="620" rx="36" ry="30"/><ellipse class="l" cx="275" cy="617" rx="25" ry="18"/><ellipse class="l" cx="275" cy="615" rx="12" ry="9"/>
<g id="hinge">
<path class="f" d="M705 230L825 110L830 85L870 75L918 105L915 125L880 135L870 150L745 250C725 250 710 240 705 230Z"/>
<path class="f" d="M725 190L835 90L880 115L860 145L750 235L730 225Z"/>
<path class="l" d="M715 225L735 235L870 130M725 190L730 225L750 235M880 115L880 90M835 90L870 80"/>
<ellipse class="l" cx="742" cy="188" rx="12" ry="9"/><ellipse class="l" cx="815" cy="125" rx="12" ry="9"/><ellipse class="l" cx="855" cy="95" rx="12" ry="9"/><ellipse class="l" cx="895" cy="103" rx="12" ry="9"/>
</g>
<use href="#hinge" x="543" y="376"/>
<path class="l" d="M333 430L358 405V445L375 458L392 445V470L362 490L333 465ZM345 460L358 478L392 450"/>
<path class="l" d="M1015 910L1040 895V935L1018 940ZM1040 935L1075 920V945L1045 965L1018 940"/><path class="b" d="M1048 938L1070 928V942L1048 955Z"/>
<path class="f" d="M415 945L445 925L458 960L432 985L415 975Z"/><ellipse class="l" cx="430" cy="957" rx="10" ry="12"/>
<path class="b" d="M390 975h10v14h-10zM405 985h8v12h-8z"/>
<path class="h" d="M332 1010L380 1035L392 1060L375 1112L330 1085L345 1055Z"/>
<ellipse class="b" cx="338" cy="1022" rx="6" ry="6"/><ellipse class="b" cx="385" cy="1050" rx="6" ry="6"/>
<path class="f" d="M170 1125L215 1103L218 1120L180 1150C165 1155 165 1135 170 1125Z"/><ellipse class="h" cx="178" cy="1137" rx="10" ry="17"/>
<path class="l" d="M195 1155V1300M358 1130V1265M282 945H378M1080 92H1150M240 248H332M1310 25H1385M1310 182H1385M1310 185H1385M500 1222H612M500 1342H612M845 1315H945M1465 476H1568M1162 910V1060M1300 1040H1405M1305 1145H1398M1305 1235H1395M808 1375V1430"/>
</g>

<!-- fender 24 -->
<g transform="translate(840,1740) scale(.33333)">
<path class="f" d="M45 650C45 635 50 628 60 625L1035 20L1095 50C1110 60 1118 75 1118 95V175C1125 195 1150 220 1152 245V690L205 1160C185 1175 150 1180 130 1172L45 1128Z"/>
<path class="h" d="M45 650C45 635 50 628 60 625L1035 20L1095 50C1110 60 1118 75 1118 95V175C1125 195 1150 220 1152 245V690L205 1160C185 1175 150 1180 130 1172L45 1128Z"/>
<path class="l" d="M60 625C75 640 95 645 125 640L1090 52C1105 60 1115 75 1116 92L150 670C120 680 90 680 77 665L45 650M150 670V1060C130 1100 100 1115 77 1110V665"/>
<path class="l" d="M150 1060C260 880 400 720 600 520C750 380 950 270 1115 180M1115 180L1125 205L860 345C700 450 550 590 385 770C290 880 210 990 135 1140M1150 255C950 360 780 480 640 620C480 790 310 960 205 1160"/>
<path class="l" d="M77 1110C90 1140 120 1160 160 1170M77 1110C110 1125 135 1130 160 1170"/>
<g fill="#fff" stroke="#000" stroke-width="2.2"><rect x="845" y="603" width="12" height="135" rx="6"/><rect x="915" y="545" width="12" height="158" rx="6"/><rect x="985" y="485" width="13" height="182" rx="6"/><rect x="1056" y="428" width="12" height="205" rx="6"/></g>
<ellipse class="b" cx="64" cy="738" rx="9" ry="11"/>
<path class="l" d="M10 770L55 745M166 1195V1320"/>
<path class="d" d="M0 40L15 50M15 50V110M40 30C55 25 65 15 72 0"/>
</g>

<!-- gas spring 8 -->
<g transform="translate(1280,1580) scale(.33333)">
<path class="f" d="M585 258L780 160L800 178L590 280Z"/>
<path class="f" stroke-width="2" d="M150 465L565 258L590 272V296L175 500Z"/>
<ellipse class="h" cx="155" cy="488" rx="18" ry="22"/>
<circle class="l" cx="118" cy="505" r="17"/>
<path class="b" d="M105 448H125V475H105ZM98 472H135L130 495H100Z"/>
<circle cx="805" cy="160" r="16" fill="#fff" stroke="#000" stroke-width="1.5"/>
<path class="b" d="M770 148L795 130L800 155L780 165Z"/><circle cx="765" cy="140" r="9" fill="#fff" stroke="#000" stroke-width="1.5"/>
<path class="l" d="M733 125L760 138M665 90L690 103M282 462V600"/>
</g>

<!-- leaders long-dash -->
<g class="dd">
<path d="M1056 660V760M1056 790V1525M1056 1555V1565M1056 1592V1603"/>
<path d="M1168 1130V1393"/>
<path d="M1320 1190V1725"/>
<path d="M1431 1215V1465M1431 1490V1500"/>
<path d="M1560 1205V1218C1560 1228 1552 1232 1545 1232H1518C1506 1232 1500 1238 1500 1250V1395"/>
<path d="M1210 1455V1555"/>
<path d="M1005 1230V1285"/>
<path d="M843 1212L948 1315"/>
<path d="M948 1495L1017 1460"/>
<path d="M793 1475V1520M793 1530V1580"/>
</g>

<!-- washers, nuts -->
<g>
<g id="w3"><ellipse cx="1057" cy="703" rx="11" ry="7" class="b"/><ellipse cx="1057" cy="703" rx="7.5" ry="4" fill="#fff"/><ellipse cx="1057" cy="703" rx="5" ry="2.5" class="b"/></g>
<use href="#w3" x="-849" y="14"/><use href="#w3" x="374" y="491"/><use href="#w3" x="502" y="485"/><use href="#w3" x="154" y="865"/><use href="#w3" x="0" y="835"/><use href="#w3" x="373" y="774"/>
<ellipse class="b" cx="1559" cy="1147" rx="9" ry="6"/><ellipse class="b" cx="1430" cy="1511" rx="9" ry="6"/><ellipse class="b" cx="1212" cy="1609" rx="8" ry="5.5"/>
<g id="n6"><path d="M1048 1572L1057 1568L1067 1572V1584L1057 1589L1048 1584Z" fill="#fff" stroke="#000" stroke-width="1.6"/><ellipse cx="1057" cy="1573" rx="8" ry="4.5" class="b"/><ellipse cx="1057" cy="1573" rx="3" ry="2" fill="#fff"/></g>
<use href="#n6" x="1" y="41"/><use href="#n6" x="155" y="70"/><use href="#n6" x="373" y="-30"/>
<g transform="translate(1005,1212)"><path class="f" d="M-10 -6L0 -11L10 -6V7L0 13L-10 7Z"/><ellipse cx="0" cy="-3" rx="8" ry="5.5" class="b"/><ellipse cx="0" cy="-3" rx="4" ry="2.5" fill="#fff"/></g>
<g transform="translate(622,1526)"><path class="f" d="M-11 -5L0 -11L11 -5V6L0 12L-11 6Z"/><ellipse cx="1" cy="-1" rx="7" ry="6" class="b"/><ellipse cx="1" cy="-1" rx="3" ry="2.5" fill="#fff"/></g>
<g transform="translate(744,1587)"><path class="f" d="M-11 -5L0 -11L11 -5V6L0 12L-11 6Z"/><ellipse cx="1" cy="-1" rx="7" ry="6" class="b"/><ellipse cx="1" cy="-1" rx="3" ry="2.5" fill="#fff"/></g>
<path class="l" d="M593 1512L610 1521M745 1572L759 1579M628 1468V1510M745 1535V1552M1072 1616H1120M1224 1608H1277M1224 1645H1269"/>
</g>

<!-- circles -->
<g style="fill:none;stroke:#000">
<circle cx="206" cy="882" r="22" style="stroke-width:2.2"/><circle cx="530" cy="770" r="22" style="stroke-width:2.2"/><circle cx="843" cy="805" r="22" style="stroke-width:2.2"/>
<circle cx="1009" cy="1320" r="22" style="stroke-width:2.2"/><circle cx="1210" cy="1436" r="22" style="stroke-width:2.2"/><circle cx="1503" cy="1418" r="22" style="stroke-width:2.2"/>
<circle cx="1484" cy="1600" r="22" style="stroke-width:2.2"/><circle cx="508" cy="1476" r="22" style="stroke-width:2.2"/><circle cx="793" cy="1453" r="22" style="stroke-width:2.2"/><circle cx="900" cy="1676" r="22" style="stroke-width:2.2"/>
</g>
<path class="l" d="M1354 602H1440V858H1395M1440 762H1420"/>

<!-- labels -->
<g transform="scale(1.4928)" font-size="31.5">
<text font-size="27" transform="translate(361,202.5) scale(.71,1)">28</text>
<text font-size="27" transform="translate(581,202.5) scale(.71,1)">19</text>
<text transform="translate(380,365) scale(.73,1)">11</text>
<text x="462" y="444" font-size="30" textLength="71" lengthAdjust="spacingAndGlyphs">Option</text>
<text transform="translate(76,441) scale(.73,1)">16</text>
<text transform="translate(80,495) scale(.73,1)">3</text>
<text transform="translate(73,546) scale(.73,1)">17</text>
<text transform="translate(429,504) scale(.73,1)">9</text>
<text transform="translate(656,454) scale(.73,1)">2</text>
<text transform="translate(656,483) scale(.73,1)">3</text>
<text transform="translate(994,492) scale(.73,1)">26</text>
<text transform="translate(935,523) scale(.73,1)">27</text>
<text transform="translate(907,629) scale(.73,1)">25</text>
<text transform="translate(100,662) scale(.73,1)">23</text>
<text transform="translate(40,711) scale(.73,1)">13</text>
<text x="447" y="698" font-size="24" textLength="126" lengthAdjust="spacingAndGlyphs">Main Harness</text>
<text transform="translate(561,681) scale(.73,1)">20</text>
<text transform="translate(829,705) scale(.73,1)">7</text>
<text transform="translate(624,828) scale(.73,1)">10</text>
<text transform="translate(931,792) scale(.73,1)">10</text>
<text transform="translate(1001,777) scale(.73,1)">12</text>
<text transform="translate(1085,752) scale(.73,1)">16</text>
<text transform="translate(1085,781) scale(.73,1)">14</text>
<text transform="translate(1078,810) scale(.73,1)">3</text>
<text transform="translate(997,811) scale(.73,1)">3</text>
<text transform="translate(1059,874) scale(.73,1)">15</text>
<text transform="translate(920,1015) scale(.73,1)">1</text>
<text transform="translate(1003,1002) scale(.73,1)">4</text>
<text transform="translate(1007,1027) scale(.73,1)">14</text>
<text transform="translate(1004,1052) scale(.73,1)">6</text>
<text transform="translate(631,984) scale(.73,1)">18</text>
<text transform="translate(623,1069) scale(.73,1)">22</text>
<text transform="translate(673,1062) scale(.73,1)">21</text>
<text transform="translate(761,1044) scale(.73,1)">4</text>
<text transform="translate(761,1069) scale(.73,1)">5</text>
<text transform="translate(761,1097) scale(.73,1)">6</text>
<text transform="translate(863,1065) scale(.73,1)">3</text>
<text transform="translate(869,1092) scale(.73,1)">14</text>
<text transform="translate(861,1117) scale(.73,1)">6</text>
<text transform="translate(923,1220) scale(.73,1)">8</text>
<text transform="translate(422,979) scale(.73,1)">10</text>
<text transform="translate(494,1026) scale(.73,1)">10</text>
<text transform="translate(530,1435) scale(.73,1)">13</text>
<text transform="translate(598,1486) scale(.73,1)">24</text>
<g font-size="31">
<text transform="translate(138,602) scale(.66,1)">E</text>
<text transform="translate(355,527) scale(.66,1)">D</text>
<text transform="translate(564,550.5) scale(.66,1)">C</text>
<text transform="translate(676,895) scale(.66,1)">D</text>
<text transform="translate(811,973) scale(.66,1)">E</text>
<text transform="translate(1007,961) scale(.66,1)">A</text>
<text transform="translate(994,1083) scale(.66,1)">B</text>
<text transform="translate(340,1000) scale(.66,1)">C</text>
<text transform="translate(531,984) scale(.66,1)">A</text>
<text transform="translate(603,1133) scale(.66,1)">B</text>
</g>
</g>
</svg>
</body></html>
